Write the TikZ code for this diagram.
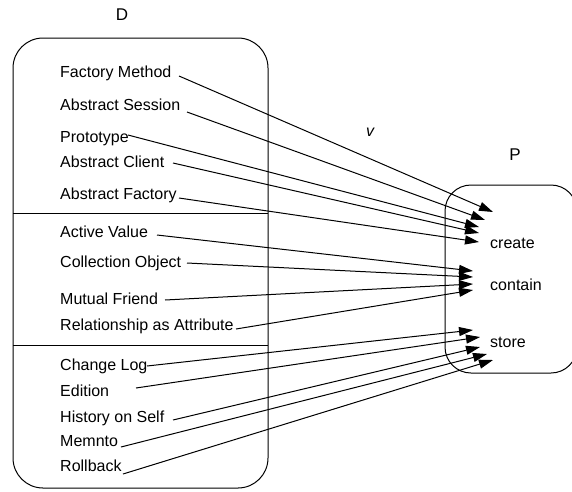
\documentclass[tikz,border=0pt]{standalone}
\usepackage{fontspec}
\setmainfont{Liberation Sans}
\usetikzlibrary{arrows.meta}
\begin{document}
\begin{tikzpicture}[x=1pt,y=-1pt,
  lbl/.style={anchor=base west,inner sep=0pt,font=\fontsize{16}{19}\selectfont},
  ttl/.style={inner sep=0pt,font=\fontsize{17}{20}\selectfont},
  conn/.style={line width=1pt,-{Triangle[length=14pt,width=9pt]}},
  box/.style={draw,line width=1pt}]
\useasboundingbox (0,0) rectangle (572,491);
\clip (0,0) rectangle (572,491);
% boxes
\draw[box,rounded corners=30pt] (13,38) rectangle (268,488);
\draw[line width=1pt] (13,213) -- (268,213);
\draw[line width=1pt] (13,345) -- (268,345);
\draw[box,rounded corners=26pt] (445,185) rectangle (577,373);
% titles
\node[ttl] (D) at (122,15) {D};
\node[ttl] (P) at (515,155) {P};
\node[ttl,font=\fontsize{16}{19}\selectfont\itshape] (v) at (370,132) {v};
% left texts
\node[lbl] (fm) at (60,77.5) {Factory Method};
\node[lbl] (as) at (60,110.5) {Abstract Session};
\node[lbl] (pt) at (60,142.5) {Prototype};
\node[lbl] (ac) at (60,167.5) {Abstract Client};
\node[lbl] (af) at (60,199.5) {Abstract Factory};
\node[lbl] (av) at (60,237.5) {Active Value};
\node[lbl] (co) at (60,267.5) {Collection Object};
\node[lbl] (mf) at (60,304.5) {Mutual Friend};
\node[lbl] (ra) at (60,330.5) {Relationship as Attribute};
\node[lbl] (cl) at (60,370.5) {Change Log};
\node[lbl] (ed) at (60,396.5) {Edition};
\node[lbl] (hs) at (60,422.5) {History on Self};
\node[lbl] (me) at (60,446.5) {Memnto};
\node[lbl] (rb) at (60,471.5) {Rollback};
% right texts
\node[lbl] (create) at (490,248) {create};
\node[lbl] (contain) at (490,290) {contain};
\node[lbl] (store) at (490,347) {store};
% connector start points
\coordinate (sfm) at (179,76);
\coordinate (sas) at (187,112);
\coordinate (spt) at (128,135);
\coordinate (sac) at (173,163);
\coordinate (saf) at (179,198);
\coordinate (sav) at (157,235);
\coordinate (sco) at (187,263);
\coordinate (smf) at (165,300);
\coordinate (sra) at (236,329);
\coordinate (scl) at (147,366);
\coordinate (sed) at (136,388);
\coordinate (shs) at (173,420);
\coordinate (sme) at (121,447);
\coordinate (srb) at (123,474);
% connector tips
\coordinate (c1) at (493,212);
\coordinate (c2) at (485,220);
\coordinate (c3) at (479,227);
\coordinate (c4) at (479,233);
\coordinate (c5) at (479,242);
\coordinate (n1) at (473,271);
\coordinate (n2) at (473,277);
\coordinate (n3) at (473,284);
\coordinate (n4) at (473,290);
\coordinate (t1) at (473,330);
\coordinate (t2) at (480,337);
\coordinate (t3) at (480,347);
\coordinate (t4) at (487,354);
\coordinate (t5) at (493,360);
% connectors
\draw[conn] (sfm) -- (c1);
\draw[conn] (sas) -- (c2);
\draw[conn] (spt) -- (c3);
\draw[conn] (sac) -- (c4);
\draw[conn] (saf) -- (c5);
\draw[conn] (sav) -- (n1);
\draw[conn] (sco) -- (n2);
\draw[conn] (smf) -- (n3);
\draw[conn] (sra) -- (n4);
\draw[conn] (scl) -- (t1);
\draw[conn] (sed) -- (t2);
\draw[conn] (shs) -- (t3);
\draw[conn] (sme) -- (t4);
\draw[conn] (srb) -- (t5);
\end{tikzpicture}
\end{document}
